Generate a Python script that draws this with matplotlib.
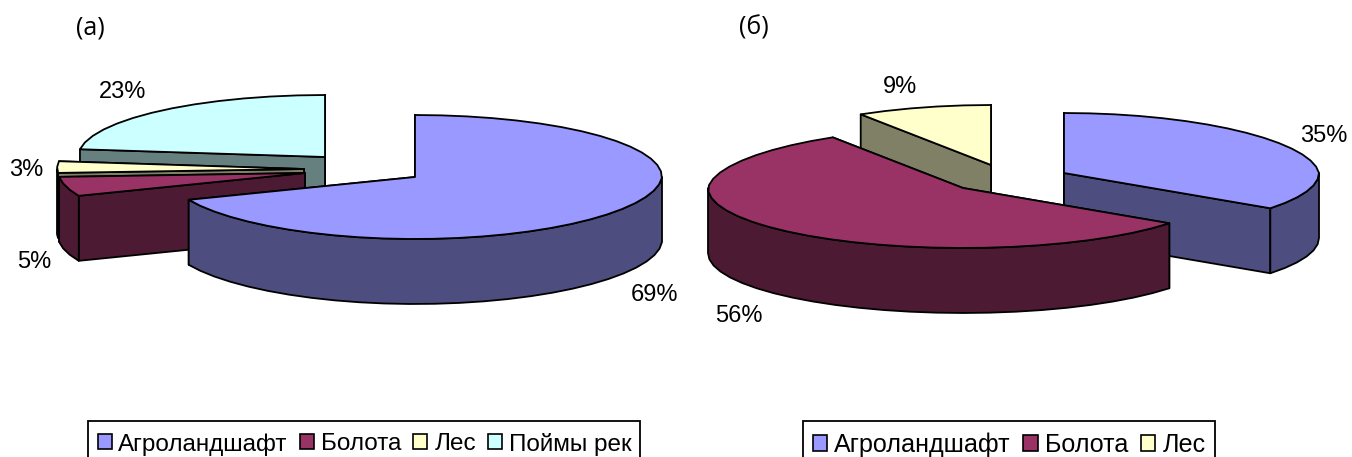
import numpy as np
import matplotlib
matplotlib.use("Agg")
import matplotlib.pyplot as plt
from matplotlib.patches import Patch, Polygon, Rectangle

plt.rcParams['font.family'] = ['Liberation Sans', 'DejaVu Sans']

#shares in percent, clockwise from 12 o'clock
categories_a = ["Агроландшафт", "Болота", "Лес", "Поймы рек"]
values_a = [69, 5, 3, 23]
categories_b = ["Агроландшафт", "Болота", "Лес"]
values_b = [35, 56, 9]

#colors of the categories: top face, side face
TOPS = {"Агроландшафт": "#9999ff", "Болота": "#993366", "Лес": "#ffffcc", "Поймы рек": "#ccffff"}
SIDES = {"Агроландшафт": "#4d4d80", "Болота": "#4d1a33", "Лес": "#808066", "Поймы рек": "#668080"}

#pixel position of each exploded slice apex, then stacking and label spots
apex_a = [(415, 177), (305, 173), (304, 169), (325, 157)]
apex_b = [(1064, 173), (963, 188), (991, 165)]
layer_a = [20, 12, 11, 10]
layer_b = [10, 20, 11]
label_pos_a = [(655, 295), (34, 262), (26, 170), (123, 92)]
label_pos_b = [(1324, 136), (739, 316), (900, 87)]

DEPTH = 65
EDGE = 1.3


def rim(apex, deg, rx, ry, back, front):
    #point of the elliptical rim, deg is clockwise from 12 o'clock
    #back and front narrow the ellipse a little on the far and near side
    t = np.radians(deg)
    c = np.cos(t)
    x = apex[0] + rx * np.sin(t) * (1 - back * np.maximum(c, 0) + front * np.minimum(c, 0))
    y = apex[1] - ry * c
    return np.column_stack([x, y])


def arc(apex, d0, d1, *shape):
    #rim drawn with short straight pieces
    n = max(int(abs(d1 - d0) / 6), 2)
    return rim(apex, np.linspace(d0, d1, n + 1), *shape)


def face(ax, pts, color, z):
    ax.add_patch(Polygon(pts, closed=True, facecolor=color, edgecolor='black',
                         linewidth=EDGE, joinstyle='round', zorder=z))


def pie3d(ax, categories, values, apexes, layers, shape, labels_at):
    bounds = np.concatenate([[0], np.cumsum(values)]) * 3.6
    for i, name in enumerate(categories):
        d0, d1 = bounds[i], bounds[i + 1]
        apex = apexes[i]
        z = layers[i]
        down = np.array([0, DEPTH])
        a = np.array([apex], dtype=float)
        #the two cut faces, the one nearer the viewer goes last
        cuts = sorted([d0, d1], key=lambda d: rim(apex, np.array([d]), *shape)[0, 1])
        for d in cuts:
            r = rim(apex, np.array([d]), *shape)
            face(ax, np.vstack([a, r, r + down, a + down]), SIDES[name], z)
        #outer wall, only the front half of the rim shows
        w0, w1 = max(d0, 90), min(d1, 270)
        if w1 > w0:
            r = arc(apex, w0, w1, *shape)
            face(ax, np.vstack([r, (r + down)[::-1]]), SIDES[name], z)
        face(ax, np.vstack([a, arc(apex, d0, d1, *shape)]), TOPS[name], z)
        ax.text(labels_at[i][0], labels_at[i][1], f"{values[i]}%", fontsize=17,
                ha='center', va='center', zorder=30)


def legend(ax, categories, box_left, box_right, box_top, size, gap):
    #frame runs past the bottom of the figure
    ax.add_patch(Rectangle((box_left, box_top), box_right - box_left, 60, facecolor='white',
                           edgecolor='black', linewidth=1.3, zorder=5))
    handles = [Patch(facecolor=TOPS[c], edgecolor='black', linewidth=1.2) for c in categories]
    leg = ax.legend(handles, categories, ncol=len(categories), loc='upper left',
                    bbox_to_anchor=(box_left + 9.5, box_top + 11.5), bbox_transform=ax.transData,
                    fontsize=size, frameon=False, borderpad=0, borderaxespad=0,
                    handlelength=0.58, handleheight=0.58, handletextpad=0.28,
                    columnspacing=gap)
    leg.set_zorder(6)
    return leg


fig = plt.figure(figsize=(13.52, 4.57), dpi=100)
ax = fig.add_axes([0, 0, 1, 1])
ax.set_xlim(0, 1352)
ax.set_ylim(457, 0)
ax.axis('off')

pie3d(ax, categories_a, values_a, apex_a, layer_a, (247, 62, 0.0, 0.04), label_pos_a)
pie3d(ax, categories_b, values_b, apex_b, layer_b, (255, 60, 0.055, 0.0), label_pos_b)

first = legend(ax, categories_a, 88, 640, 421, 17.5, 0.5)
ax.add_artist(first)
legend(ax, categories_b, 803, 1215, 421, 18.1, 0.5)

ax.text(90, 28, "(а)", fontsize=18, ha='center', va='center', family=['Open Sans', 'DejaVu Sans'])
ax.text(754, 28, "(б)", fontsize=18, ha='center', va='center', family=['Open Sans', 'DejaVu Sans'])

plt.savefig("out.png", dpi=100)
